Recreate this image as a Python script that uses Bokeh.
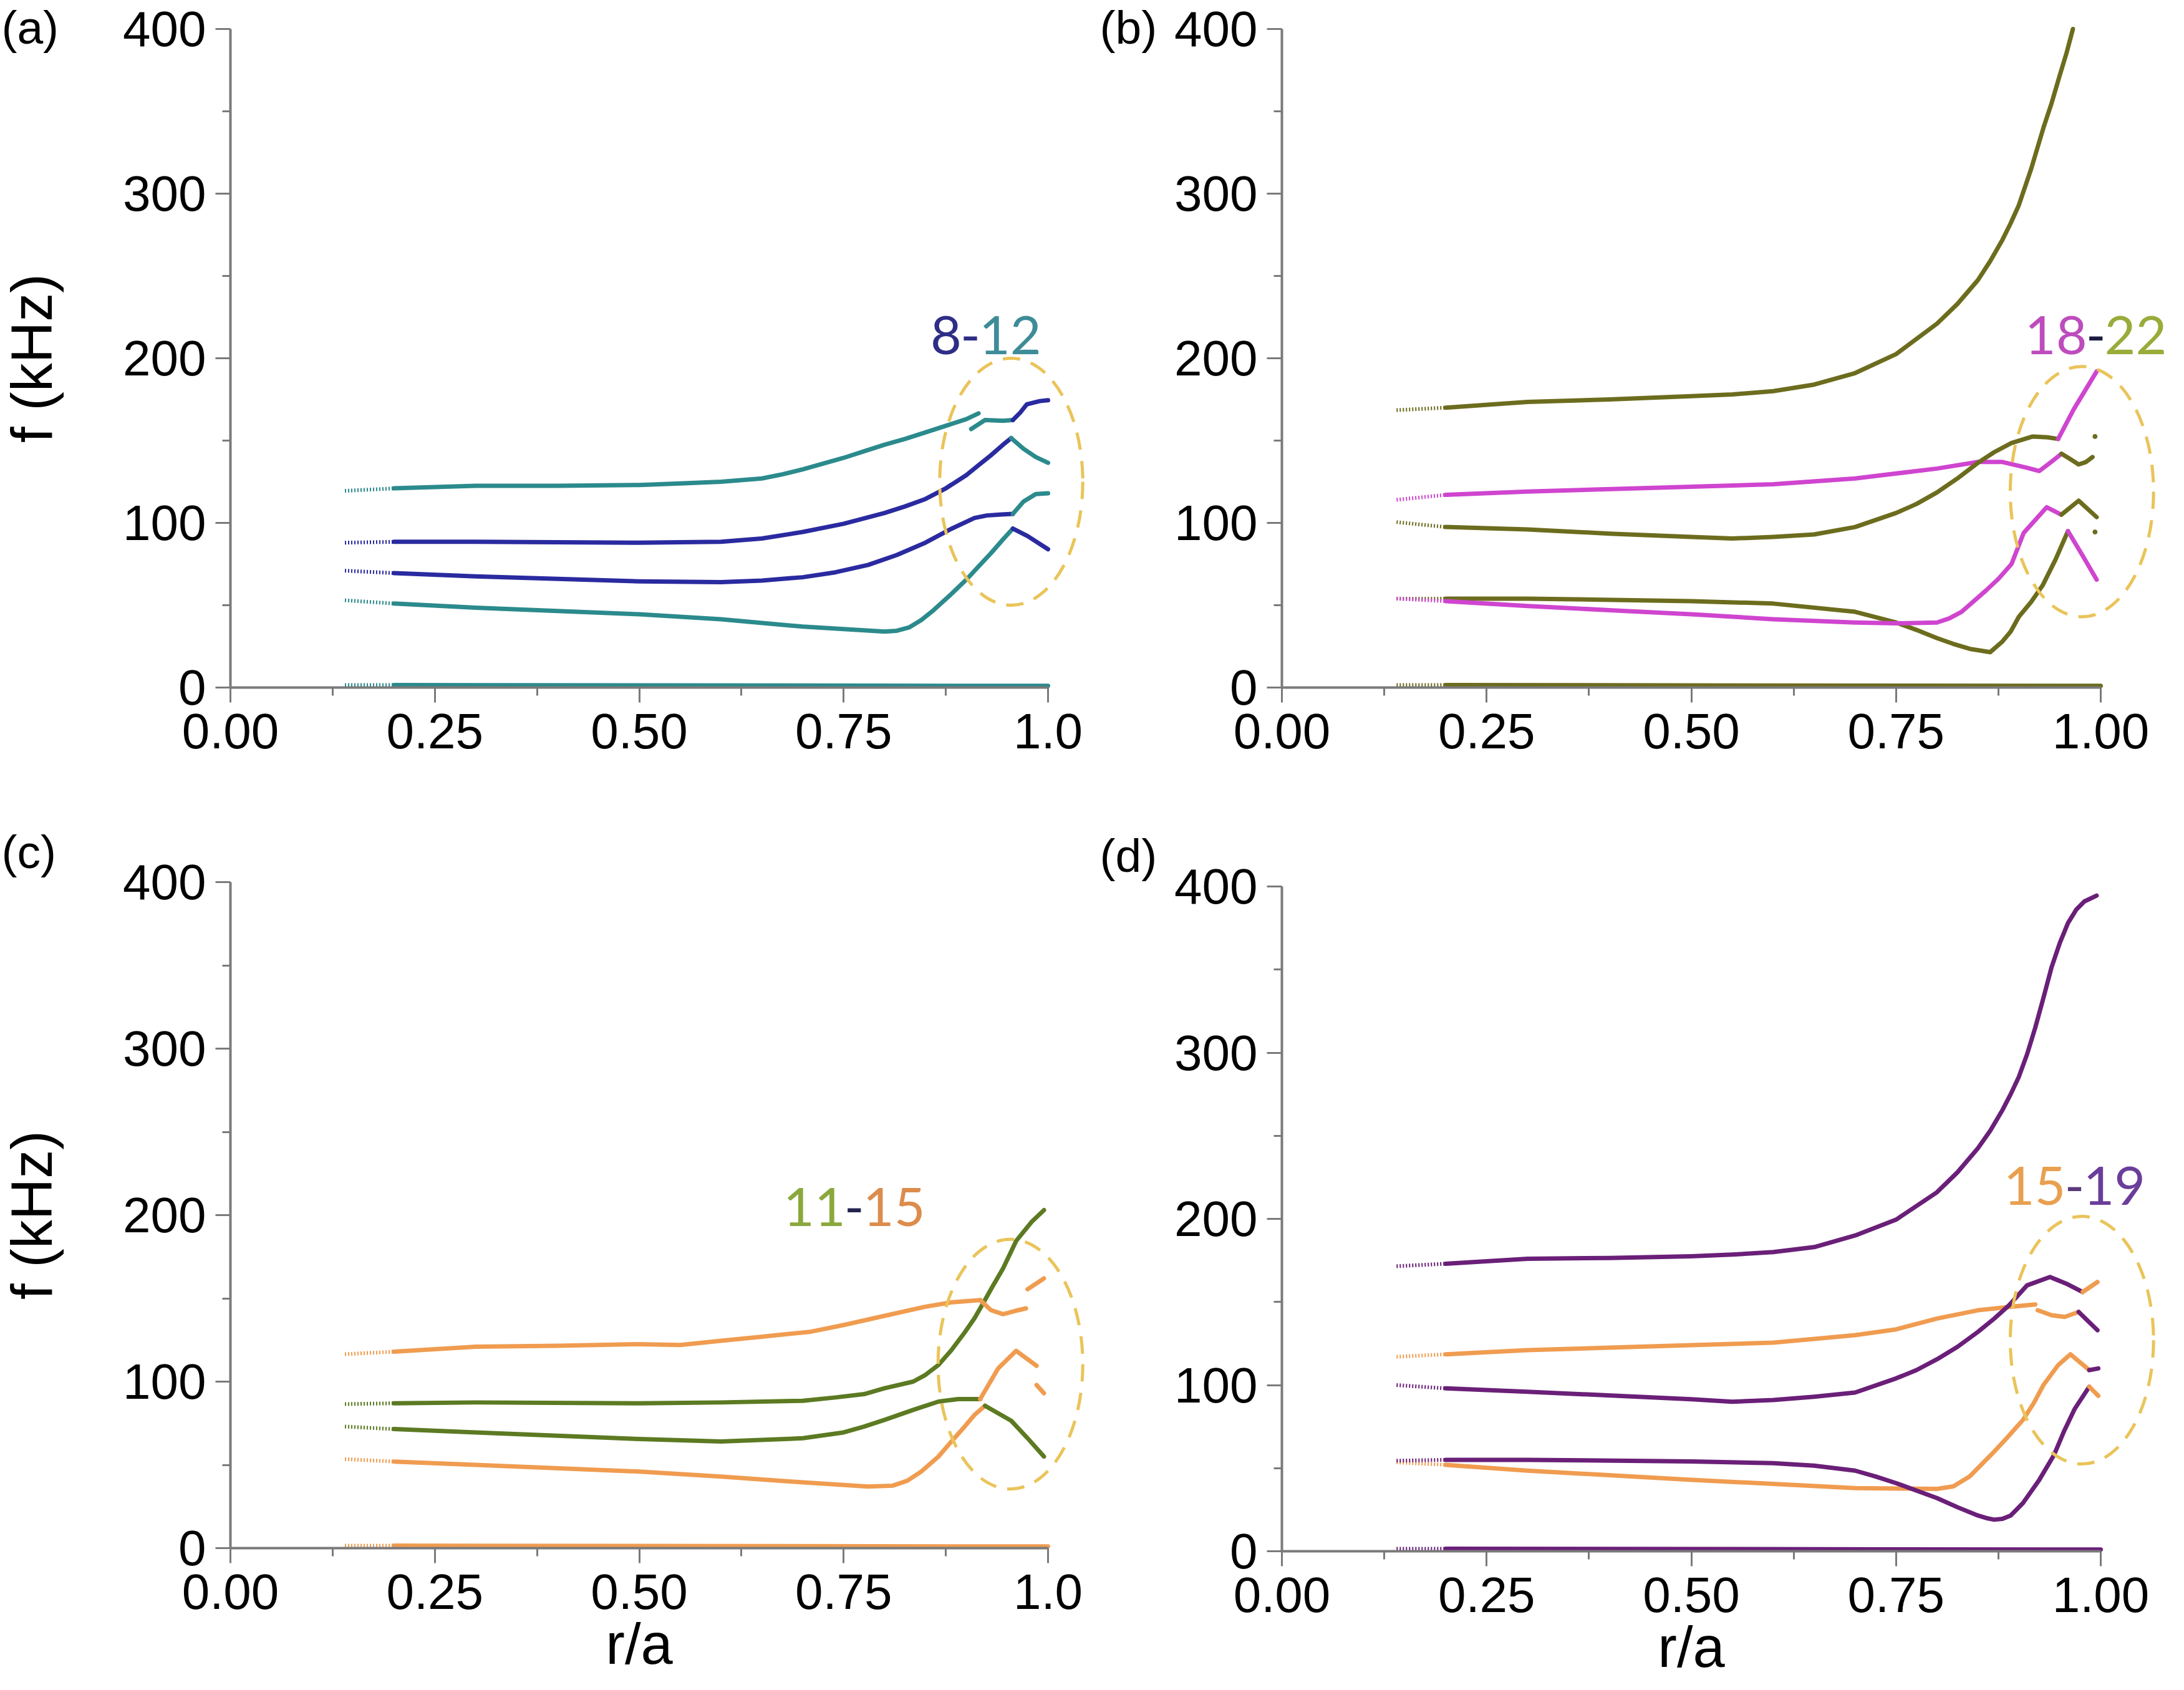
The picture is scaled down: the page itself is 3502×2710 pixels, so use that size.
from bokeh.plotting import figure
from bokeh.layouts import column, row
from bokeh.models import Label, Range1d, FixedTicker, NumeralTickFormatter, LinearAxis
from bokeh.embed import file_html
from bokeh.resources import INLINE

# ---------------- data (r/a , f in kHz) ----------------
# panel (a)  n = 8-12
a_teal1_r = [0.14, 0.20, 0.30, 0.40, 0.50, 0.55, 0.60, 0.65, 0.675, 0.70, 0.725, 0.75, 0.775, 0.80, 0.825, 0.85, 0.90, 0.915]
a_teal1_f = [119.5, 121.0, 122.5, 122.5, 123.0, 124.0, 125.0, 127.0, 129.5, 132.5, 136.0, 139.5, 143.5, 147.5, 151.0, 155.0, 163.0, 166.5]
a_teal2_r = [0.906, 0.923, 0.945, 0.957]
a_teal2_f = [157.0, 162.5, 162.0, 162.5]
a_blue1_r = [0.957, 0.966, 0.974, 0.99, 1.0]
a_blue1_f = [162.5, 167.0, 172.0, 174.0, 174.5]
a_blue2_r = [0.14, 0.20, 0.30, 0.50, 0.60, 0.65, 0.70, 0.75, 0.80, 0.825, 0.85, 0.875, 0.90, 0.915, 0.93, 0.945, 0.955]
a_blue2_f = [88.0, 88.5, 88.5, 88.0, 88.5, 90.5, 94.5, 99.5, 106.0, 110.0, 114.5, 121.0, 129.0, 135.0, 141.0, 147.5, 151.5]
a_teal3_r = [0.955, 0.97, 0.985, 1.0]
a_teal3_f = [151.5, 145.0, 140.0, 136.5]
a_blue3_r = [0.14, 0.20, 0.30, 0.50, 0.60, 0.65, 0.70, 0.74, 0.78, 0.815, 0.85, 0.865, 0.88, 0.91, 0.925, 0.94, 0.957]
a_blue3_f = [71.0, 69.5, 67.5, 64.5, 64.0, 65.0, 67.0, 70.0, 74.5, 80.5, 88.0, 92.0, 96.0, 103.0, 104.5, 105.0, 105.5]
a_teal4_r = [0.957, 0.97, 0.985, 1.0]
a_teal4_f = [105.5, 113.0, 117.5, 118.0]
a_teal5_r = [0.14, 0.20, 0.30, 0.50, 0.60, 0.70, 0.75, 0.80, 0.815, 0.83, 0.845, 0.86, 0.88, 0.90, 0.915, 0.93, 0.945, 0.957]
a_teal5_f = [53.0, 51.0, 48.5, 44.5, 41.5, 37.0, 35.5, 34.0, 34.5, 36.5, 41.0, 47.0, 56.0, 65.5, 73.5, 81.5, 90.0, 96.5]
a_blue4_r = [0.957, 0.975, 1.0]
a_blue4_f = [96.5, 92.0, 84.0]
a_zero_r = [0.14, 0.20, 1.0]
a_zero_f = [1.5, 1.5, 1.0]

# panel (b)  n = 18-22
b_olive1_r = [0.14, 0.20, 0.30, 0.40, 0.50, 0.55, 0.60, 0.65, 0.70, 0.75, 0.80, 0.825, 0.85, 0.865, 0.88, 0.89, 0.90, 0.915, 0.93, 0.94, 0.95, 0.958, 0.966]
b_olive1_f = [168.5, 170.0, 173.5, 175.0, 177.0, 178.0, 180.0, 184.0, 191.0, 202.5, 221.0, 233.0, 247.5, 259.0, 272.0, 282.0, 293.0, 315.0, 340.0, 355.0, 372.0, 385.0, 400.0]
b_mag1_r = [0.14, 0.20, 0.30, 0.50, 0.60, 0.70, 0.80, 0.85, 0.88, 0.91, 0.925, 0.942, 0.952]
b_mag1_f = [114.0, 117.0, 119.0, 122.0, 123.5, 127.0, 133.0, 137.0, 137.0, 133.5, 131.5, 138.0, 142.0]
b_olive2_r = [0.952, 0.962, 0.973, 0.982, 0.99]
b_olive2_f = [142.0, 139.0, 135.5, 137.0, 140.0]
b_olive3_r = [0.14, 0.20, 0.30, 0.40, 0.50, 0.55, 0.60, 0.65, 0.70, 0.75, 0.775, 0.80, 0.825, 0.85, 0.87, 0.891, 0.917, 0.935, 0.948]
b_olive3_f = [100.5, 97.5, 96.0, 93.5, 91.5, 90.5, 91.5, 93.0, 97.5, 106.0, 111.5, 118.5, 127.0, 136.5, 143.0, 148.5, 152.5, 152.0, 151.0]
b_mag2_r = [0.948, 0.967, 0.995]
b_mag2_f = [151.0, 169.0, 192.0]
b_mag3_r = [0.14, 0.20, 0.30, 0.40, 0.50, 0.60, 0.70, 0.75, 0.80, 0.815, 0.83, 0.86, 0.875, 0.891, 0.906, 0.934, 0.952]
b_mag3_f = [54.0, 52.5, 49.5, 47.0, 44.5, 41.5, 39.5, 39.0, 39.5, 42.0, 46.0, 59.0, 66.0, 75.0, 94.0, 109.5, 105.0]
b_olive4_r = [0.952, 0.973, 0.995]
b_olive4_f = [105.0, 113.5, 103.5]
b_olive5_r = [0.14, 0.20, 0.30, 0.50, 0.60, 0.70, 0.75, 0.775, 0.80, 0.82, 0.84, 0.865, 0.88, 0.89, 0.90, 0.915, 0.929, 0.945, 0.96]
b_olive5_f = [54.0, 54.0, 54.0, 52.5, 51.0, 46.0, 39.5, 35.0, 30.0, 26.5, 23.5, 21.5, 28.0, 34.0, 43.0, 52.0, 62.0, 78.0, 95.0]
b_mag4_r = [0.96, 0.978, 0.995]
b_mag4_f = [95.0, 80.0, 65.5]
b_dot_r = [0.993, 0.993]
b_dot_f = [152.5, 94.5]
b_zero_r = [0.14, 0.20, 1.0]
b_zero_f = [1.5, 1.5, 1.0]

# panel (c)  n = 11-15
c_orange1_r = [0.14, 0.20, 0.30, 0.40, 0.50, 0.55, 0.60, 0.65, 0.71, 0.75, 0.80, 0.85, 0.88, 0.917]
c_orange1_f = [116.5, 118.0, 121.0, 121.5, 122.5, 122.0, 124.5, 127.0, 130.0, 134.0, 139.5, 145.0, 147.5, 149.0]
c_orange2_r = [0.917, 0.93, 0.945, 0.96, 0.973]
c_orange2_f = [149.0, 143.0, 140.5, 142.5, 144.0]
c_orange3_r = [0.975, 0.995]
c_orange3_f = [155.5, 162.0]
c_green1_r = [0.14, 0.20, 0.30, 0.50, 0.60, 0.70, 0.74, 0.775, 0.80, 0.835, 0.85, 0.866, 0.882, 0.898, 0.91, 0.92, 0.932, 0.945, 0.961, 0.98, 0.995]
c_green1_f = [86.5, 87.0, 87.5, 87.0, 87.5, 88.5, 90.5, 92.5, 96.0, 100.0, 104.0, 110.0, 119.0, 129.5, 138.0, 146.5, 157.0, 168.0, 184.5, 196.0, 203.0]
c_green2_r = [0.14, 0.20, 0.30, 0.50, 0.60, 0.70, 0.75, 0.775, 0.80, 0.835, 0.866, 0.89, 0.917]
c_green2_f = [73.0, 71.5, 69.5, 65.5, 64.0, 66.0, 69.5, 73.0, 77.0, 83.0, 88.0, 89.5, 89.5]
c_orange4_r = [0.917, 0.939, 0.961, 0.986]
c_orange4_f = [89.5, 108.0, 118.5, 109.5]
c_orange5_r = [0.986, 0.995]
c_orange5_f = [98.0, 93.0]
c_orange6_r = [0.14, 0.20, 0.30, 0.50, 0.60, 0.70, 0.78, 0.81, 0.828, 0.845, 0.866, 0.88, 0.898, 0.91, 0.923]
c_orange6_f = [53.5, 52.0, 50.0, 46.0, 43.0, 39.5, 37.0, 37.5, 40.5, 46.0, 55.0, 63.0, 73.0, 80.0, 85.5]
c_green3_r = [0.923, 0.955, 0.975, 0.995]
c_green3_f = [85.5, 76.5, 66.0, 55.0]
c_zero_r = [0.14, 0.20, 1.0]
c_zero_f = [1.5, 1.5, 1.0]

# panel (d)  n = 15-19
d_purple1_r = [0.14, 0.20, 0.30, 0.40, 0.50, 0.55, 0.60, 0.65, 0.70, 0.75, 0.80, 0.825, 0.85, 0.865, 0.88, 0.89, 0.90, 0.91, 0.92, 0.93, 0.94, 0.95, 0.96, 0.97, 0.98, 0.995]
d_purple1_f = [171.5, 173.0, 176.0, 176.5, 177.5, 178.5, 180.0, 183.0, 190.0, 199.5, 216.0, 228.0, 242.5, 253.0, 265.5, 275.0, 285.5, 299.0, 315.0, 333.0, 351.5, 366.0, 378.0, 386.0, 391.0, 394.5]
d_orange1_r = [0.14, 0.20, 0.30, 0.50, 0.60, 0.70, 0.75, 0.80, 0.85, 0.888, 0.92]
d_orange1_f = [117.0, 118.5, 121.0, 124.0, 125.5, 130.0, 133.5, 140.0, 145.0, 147.0, 148.5]
d_purple2_r = [0.14, 0.20, 0.30, 0.50, 0.55, 0.60, 0.65, 0.70, 0.75, 0.775, 0.80, 0.825, 0.85, 0.87, 0.888, 0.91, 0.938, 0.958, 0.978]
d_purple2_f = [100.0, 98.0, 96.0, 91.5, 90.0, 91.0, 93.0, 95.5, 104.0, 109.0, 115.5, 123.0, 132.0, 140.0, 148.0, 160.0, 165.0, 161.0, 156.0]
d_orange2_r = [0.978, 0.996]
d_orange2_f = [156.0, 162.0]
d_orange3_r = [0.923, 0.94, 0.956, 0.973]
d_orange3_f = [145.0, 142.0, 141.0, 144.0]
d_purple3_r = [0.973, 0.996]
d_purple3_f = [144.0, 133.0]
d_orange4_r = [0.14, 0.20, 0.30, 0.50, 0.60, 0.70, 0.80, 0.82, 0.84, 0.868, 0.885, 0.905, 0.918, 0.93, 0.948, 0.963, 0.986]
d_orange4_f = [53.5, 52.0, 48.5, 43.0, 40.5, 38.0, 37.5, 39.0, 45.0, 59.0, 68.0, 79.0, 89.0, 100.0, 112.0, 118.5, 109.0]
d_purple4_r = [0.986, 0.997]
d_purple4_f = [109.0, 110.0]
d_purple5_r = [0.14, 0.20, 0.30, 0.50, 0.60, 0.65, 0.70, 0.725, 0.75, 0.775, 0.80, 0.825, 0.85, 0.86, 0.87, 0.88, 0.89, 0.905, 0.925, 0.943, 0.955, 0.968, 0.986]
d_purple5_f = [54.5, 55.0, 55.0, 54.0, 53.0, 51.5, 48.5, 45.0, 41.0, 36.5, 32.0, 26.5, 21.5, 20.0, 19.0, 19.5, 21.5, 29.0, 43.0, 58.0, 72.0, 85.5, 99.0]
d_orange5_r = [0.986, 0.997]
d_orange5_f = [99.0, 93.5]
d_zero_r = [0.14, 0.20, 1.0]
d_zero_f = [1.5, 1.5, 1.0]

# highlighted regions (centre r, centre f, width, height)
ellipse_a = [0.955, 125.0, 0.175, 150.0]
ellipse_b = [0.977, 119.0, 0.175, 152.0]
ellipse_c = [0.954, 110.5, 0.177, 150.0]
ellipse_d = [0.977, 127.0, 0.175, 149.0]

# mode-number labels (left part, right part)
label_a = ["8", "12"]
label_b = ["18", "22"]
label_c = ["11", "15"]
label_d = ["15", "19"]
panel_tags = ["(a)", "(b)", "(c)", "(d)"]

x_ticks = [0, 0.25, 0.5, 0.75, 1.0]
x_minor = [0.125, 0.375, 0.625, 0.875]
y_ticks = [0, 100, 200, 300, 400]
y_minor = [50, 150, 250, 350]

# ---------------- styles ----------------
TEAL = "#2b8a8c"
BLUE = "#2a2aa0"
OLIVE = "#6c6c1e"
MAGENTA = "#cf45cf"
GREEN = "#5c7a22"
ORANGE = "#f09c50"
PURPLE = "#6a1f78"
ELL = "#eac45a"
AX = "#7a7a7a"
FONT = "Liberation Sans"
LFONT = "Lato"


def draw(p, r, f, color):
    if r[0] < 0.15 and len(r) > 2 and abs(r[1] - 0.20) < 1e-9:
        p.line(r[:2], f[:2], line_color=color, line_width=6, line_dash="2 3")
        p.line(r[1:], f[1:], line_color=color, line_width=7,
               line_join="round", line_cap="round")
    else:
        p.line(r, f, line_color=color, line_width=7,
               line_join="round", line_cap="round")


def style_axis(ax):
    ax.axis_line_color = AX
    ax.axis_line_width = 4
    ax.major_tick_line_color = AX
    ax.major_tick_line_width = 3
    ax.minor_tick_line_color = AX
    ax.minor_tick_line_width = 3
    ax.major_tick_in = 0
    ax.major_tick_out = 24
    ax.minor_tick_in = 0
    ax.minor_tick_out = 13
    ax.major_label_text_font = FONT
    ax.major_label_text_font_size = "80px"
    ax.major_label_text_color = "black"
    ax.axis_label_text_font = FONT
    ax.axis_label_text_font_size = "92px"
    ax.axis_label_text_font_style = "normal"
    ax.axis_label_text_color = "black"


def make_panel(W, H, x0_px, px_per_r, y400_px, y0_px, last_label, ylabel, xlabel):
    """Whole canvas is the frame; axes are pinned at r=0 and f=0."""
    sy = (y0_px - y400_px) / 400.0
    x_range = Range1d(-x0_px / px_per_r, (W - x0_px) / px_per_r)
    y_range = Range1d(-(H - y0_px) / sy, 400 + y400_px / sy)
    p = figure(width=W, height=H, x_range=x_range, y_range=y_range,
               min_border=0, min_border_left=0, min_border_right=0,
               min_border_top=0, min_border_bottom=0,
               x_axis_location=None, y_axis_location=None,
               output_backend="svg", toolbar_location=None, title=None)
    p.outline_line_color = None
    p.background_fill_color = "white"
    p.border_fill_color = "white"
    p.grid.visible = False
    for g in p.renderers:
        pass

    xa = LinearAxis(fixed_location=0, bounds=(0, 1.0),
                    ticker=FixedTicker(ticks=x_ticks, minor_ticks=x_minor),
                    formatter=NumeralTickFormatter(format="0.00"))
    style_axis(xa)
    if last_label != "1.00":
        xa.major_label_overrides = {1: last_label}
    xa.major_label_standoff = 18
    if xlabel:
        xa.axis_label = xlabel
        xa.axis_label_standoff = 2
    p.add_layout(xa, "below")

    ya = LinearAxis(fixed_location=0, bounds=(0, 400),
                    ticker=FixedTicker(ticks=y_ticks, minor_ticks=y_minor))
    style_axis(ya)
    ya.major_label_standoff = 15
    if ylabel:
        ya.axis_label = ylabel
        ya.axis_label_standoff = 92
    p.add_layout(ya, "left")
    for g in p.center:
        if g.__class__.__name__ == "Grid":
            g.visible = False
            g.grid_line_color = None
    return p


def add_ellipse(p, e):
    p.ellipse(x=[e[0]], y=[e[1]], width=[e[2]], height=[e[3]],
              fill_color=None, line_color=ELL, line_width=5, line_dash="28 18")


def add_mode_label(p, texts, xc, yb, c1, cdash, c2):
    kw = dict(text_font=LFONT, text_font_size="86px", text_baseline="alphabetic")
    p.add_layout(Label(x=xc, y=yb, text=texts[0], text_align="right", x_offset=-14,
                       text_color=c1, **kw))
    p.add_layout(Label(x=xc, y=yb, text="-", text_align="center",
                       text_color=cdash, **kw))
    p.add_layout(Label(x=xc, y=yb, text=texts[1], text_align="left", x_offset=14,
                       text_color=c2, **kw))


def add_panel_tag(p, tag, x, y):
    p.add_layout(Label(x=x, y=y, text=tag,
                       text_font=FONT, text_font_size="75px", text_color="black",
                       text_baseline="top", text_align="left"))


# ---------------- panels ----------------
pa = make_panel(1752, 1322, 369, 1311, 46, 1102, "1.0", "f (kHz)", None)
for r, f, c in [(a_teal1_r, a_teal1_f, TEAL), (a_teal2_r, a_teal2_f, TEAL),
                (a_blue1_r, a_blue1_f, BLUE), (a_blue2_r, a_blue2_f, BLUE),
                (a_teal3_r, a_teal3_f, TEAL), (a_blue3_r, a_blue3_f, BLUE),
                (a_teal4_r, a_teal4_f, TEAL), (a_teal5_r, a_teal5_f, TEAL),
                (a_blue4_r, a_blue4_f, BLUE), (a_zero_r, a_zero_f, TEAL)]:
    draw(pa, r, f, c)
add_ellipse(pa, ellipse_a)
add_mode_label(pa, label_a, 0.905, 214, "#2e2e86", "#2e2e86", "#3d8c98")
add_panel_tag(pa, panel_tags[0], -0.2800, 417.0)

pb = make_panel(1728, 1322, 303, 1313, 46, 1102, "1.00", None, None)
for r, f, c in [(b_olive1_r, b_olive1_f, OLIVE), (b_mag1_r, b_mag1_f, MAGENTA),
                (b_olive2_r, b_olive2_f, OLIVE), (b_olive3_r, b_olive3_f, OLIVE),
                (b_mag2_r, b_mag2_f, MAGENTA), (b_olive5_r, b_olive5_f, OLIVE),
                (b_mag3_r, b_mag3_f, MAGENTA), (b_olive4_r, b_olive4_f, OLIVE),
                (b_mag4_r, b_mag4_f, MAGENTA), (b_zero_r, b_zero_f, OLIVE)]:
    draw(pb, r, f, c)
pb.scatter(b_dot_r, b_dot_f, size=7, color=OLIVE)
add_ellipse(pb, ellipse_b)
add_mode_label(pb, label_b, 0.994, 214, "#bd4cbd", "#1c1c40", "#9aab3a")
add_panel_tag(pb, panel_tags[1], -0.2224, 417.0)

pc = make_panel(1752, 1372, 369, 1311, 92, 1160, "1.0", "f (kHz)", "r/a")
for r, f, c in [(c_orange1_r, c_orange1_f, ORANGE), (c_green1_r, c_green1_f, GREEN),
                (c_orange2_r, c_orange2_f, ORANGE), (c_orange3_r, c_orange3_f, ORANGE),
                (c_green2_r, c_green2_f, GREEN), (c_orange4_r, c_orange4_f, ORANGE),
                (c_orange5_r, c_orange5_f, ORANGE), (c_orange6_r, c_orange6_f, ORANGE),
                (c_green3_r, c_green3_f, GREEN), (c_zero_r, c_zero_f, ORANGE)]:
    draw(pc, r, f, c)
add_ellipse(pc, ellipse_c)
add_mode_label(pc, label_c, 0.763, 205, "#8aa83c", "#24244e", "#dc8c4c")
add_panel_tag(pc, panel_tags[2], -0.2800, 434.0)

pd = make_panel(1728, 1372, 303, 1313, 99, 1165, "1.00", None, "r/a")
for r, f, c in [(d_purple1_r, d_purple1_f, PURPLE), (d_orange1_r, d_orange1_f, ORANGE),
                (d_purple2_r, d_purple2_f, PURPLE), (d_orange2_r, d_orange2_f, ORANGE),
                (d_orange3_r, d_orange3_f, ORANGE), (d_purple3_r, d_purple3_f, PURPLE),
                (d_orange4_r, d_orange4_f, ORANGE), (d_purple4_r, d_purple4_f, PURPLE),
                (d_purple5_r, d_purple5_f, PURPLE), (d_orange5_r, d_orange5_f, ORANGE),
                (d_zero_r, d_zero_f, PURPLE)]:
    draw(pd, r, f, c)
add_ellipse(pd, ellipse_d)
add_mode_label(pd, label_d, 0.968, 220, "#e8a050", "#5a3a7a", "#6b3d9a")
add_panel_tag(pd, panel_tags[3], -0.2224, 434.5)

layout = column(row(pa, pb), row(pc, pd))
open("out.html", "w").write(file_html(layout, INLINE))
